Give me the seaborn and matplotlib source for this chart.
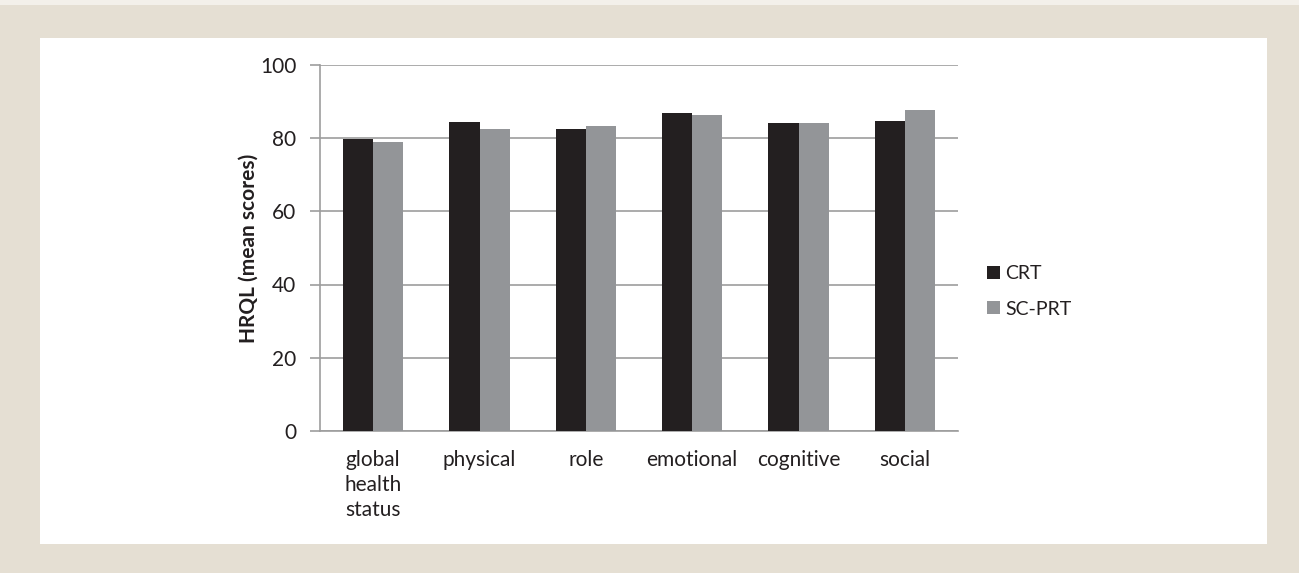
"""
HRQL mean scores: CRT vs SC-PRT
"""

import matplotlib
matplotlib.use("Agg")
import matplotlib.pyplot as plt
from matplotlib.patches import Rectangle
import seaborn as sns
import pandas as pd

# data
domains = ["global\nhealth\nstatus", "physical", "role", "emotional", "cognitive", "social"]
crt = [79.7, 84.5, 82.6, 87.0, 84.1, 84.7]
sc_prt = [79.0, 82.6, 83.4, 86.4, 84.3, 87.7]
groups = ["CRT", "SC-PRT"]
y_ticks = [0, 20, 40, 60, 80, 100]

df = pd.DataFrame({
    "Domain": domains * 2,
    "Score": crt + sc_prt,
    "Group": [groups[0]] * len(domains) + [groups[1]] * len(domains),
})

sns.set_theme(style="white")
plt.rcParams["font.family"] = ["Lato", "DejaVu Sans"]
colors = ["#231f20", "#939598"]
grid_col = "#9d9d9d"
txt_col = "#231f20"

fig = plt.figure(figsize=(12.99, 5.73), dpi=100)
fig.patch.set_facecolor("#e5dfd3")
# white panel + light strip on top (behind the axes)
fig.patches.append(Rectangle((0, 1 - 5 / 573), 1, 5 / 573, transform=fig.transFigure,
                             facecolor="#f3f0ea", edgecolor="none", zorder=-10))
fig.patches.append(Rectangle((40 / 1299, 1 - 543.5 / 573), (1267 - 40) / 1299, (543.5 - 38) / 573,
                             transform=fig.transFigure, facecolor="white", edgecolor="none", zorder=-10))

ax = fig.add_axes([320 / 1299, 1 - 430.7 / 573, (958 - 320) / 1299, (430.7 - 65.2) / 573])
ax.set_facecolor("none")

sns.barplot(data=df, x="Domain", y="Score", hue="Group", palette=colors,
            width=0.565, saturation=1, linewidth=0, ax=ax, legend=False, zorder=3)

ax.set_ylim(0, 100)
ax.set_xlim(-0.5, len(domains) - 0.5)
ax.set_yticks(y_ticks)
ax.set_yticklabels([str(t) for t in y_ticks], fontsize=15, color=txt_col)
ax.yaxis.grid(True, color=grid_col, linewidth=1.2, zorder=0)
ax.set_axisbelow(True)

# x ticks at category boundaries, labels centred
ax.set_xticks([i for i in range(len(domains))])
ax.set_xticklabels(domains, fontsize=15, color=txt_col, linespacing=1.3)
ax.set_xticks([i - 0.5 for i in range(len(domains) + 1)], minor=True)
ax.tick_params(axis="x", which="major", length=0, pad=14)
ax.tick_params(axis="x", which="minor", length=7, width=1.2, color=grid_col, direction="out")
ax.tick_params(axis="y", length=7, width=1.2, color=grid_col, direction="out", pad=10, left=True)

for s in ["top", "right"]:
    ax.spines[s].set_visible(False)
for s in ["left", "bottom"]:
    ax.spines[s].set_color(grid_col)
    ax.spines[s].set_linewidth(1.2)

ax.set_xlabel("")
ax.set_ylabel("HRQL (mean scores)", fontsize=15, fontweight="bold", color=txt_col, labelpad=1)

handles = [Rectangle((0, 0), 1, 1, facecolor=c, edgecolor="none") for c in colors]
fig.legend(handles, groups, loc="center left", bbox_to_anchor=(987 / 1299, 1 - 291.5 / 573),
           frameon=False, fontsize=14, handlelength=0.65, handleheight=0.65,
           handletextpad=0.3, labelspacing=0.95, borderpad=0, borderaxespad=0,
           labelcolor=txt_col)

fig.savefig("out.png", dpi=100, facecolor=fig.get_facecolor())
